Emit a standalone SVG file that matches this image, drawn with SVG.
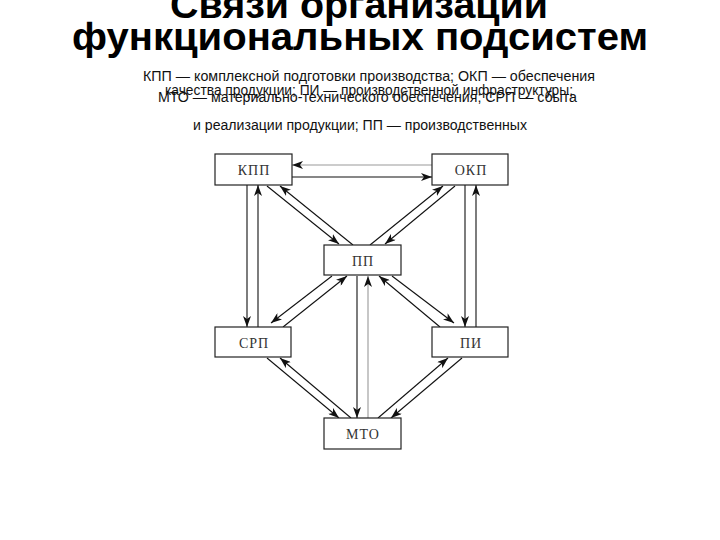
<svg xmlns="http://www.w3.org/2000/svg" width="720" height="540" viewBox="0 0 720 540">
<style>
.title{font-family:"Liberation Sans",Arial,sans-serif;font-weight:bold;font-size:38px;fill:#000;text-anchor:middle}
.sub{font-family:"Liberation Sans",Arial,sans-serif;font-size:14px;fill:#111}
.box{fill:#fff;stroke:#222;stroke-width:1.2}
.lbl{font-family:"Liberation Serif","Times New Roman",serif;font-size:14px;fill:#333;text-anchor:middle;letter-spacing:1px}
.c{stroke:#111;stroke-width:1.1;fill:none;marker-end:url(#ah)}
.g{stroke:#999}
</style>
<defs>
<marker id="ah" markerUnits="userSpaceOnUse" markerWidth="12" markerHeight="8" refX="11" refY="4" orient="auto">
<path d="M0,0 L11,4 L0,8 L3,4 Z" fill="#111"/>
</marker>
</defs>
<rect width="720" height="540" fill="#fff"/>
<g id="title">
<text class="title" x="359" y="18" textLength="378" lengthAdjust="spacingAndGlyphs">Связи организации</text>
<text class="title" x="360" y="50" textLength="576" lengthAdjust="spacingAndGlyphs">функциональных подсистем</text>
</g>
<g id="legend">
<text class="sub" x="143" y="81" textLength="452" lengthAdjust="spacingAndGlyphs">КПП — комплексной подготовки производства; ОКП — обеспечения</text>
<text class="sub" x="165" y="95" textLength="408" lengthAdjust="spacingAndGlyphs">качества продукции; ПИ — производственной инфраструктуры;</text>
<text class="sub" x="158" y="102" textLength="419" lengthAdjust="spacingAndGlyphs">МТО — материально-технического обеспечения; СРП — сбыта</text>
<text class="sub" x="193" y="130" textLength="334" lengthAdjust="spacingAndGlyphs">и реализации продукции; ПП — производственных</text>
</g>
<g id="connectors">
<line class="c g" x1="432" y1="165" x2="292" y2="165"/>
<line class="c" x1="292" y1="177" x2="432" y2="177"/>
<line class="c" x1="247" y1="185" x2="247" y2="327"/>
<line class="c" x1="258" y1="327" x2="258" y2="185"/>
<line class="c" x1="465" y1="185" x2="465" y2="327"/>
<line class="c" x1="476" y1="327" x2="476" y2="185"/>
<line class="c" x1="267" y1="186" x2="339" y2="244"/>
<line class="c" x1="353" y1="245" x2="280" y2="186"/>
<line class="c" x1="370" y1="245" x2="443" y2="186"/>
<line class="c" x1="455" y1="186" x2="385" y2="244"/>
<line class="c" x1="357" y1="276" x2="357" y2="418"/>
<line class="c g" x1="368" y1="418" x2="368" y2="276"/>
<line class="c" x1="332" y1="276" x2="271" y2="323"/>
<line class="c" x1="283" y1="327" x2="347" y2="276"/>
<line class="c" x1="440" y1="327" x2="379" y2="276"/>
<line class="c" x1="392" y1="276" x2="454" y2="323"/>
<line class="c" x1="267" y1="358" x2="339" y2="418"/>
<line class="c" x1="351" y1="418" x2="280" y2="358"/>
<line class="c" x1="378" y1="418" x2="448" y2="358"/>
<line class="c" x1="462" y1="358" x2="391" y2="418"/>
</g>
<g id="KPP"><rect class="box" x="215" y="154" width="77" height="31"/><text class="lbl" x="254" y="175">КПП</text></g>
<g id="OKP"><rect class="box" x="432" y="154" width="76" height="31"/><text class="lbl" x="471" y="175">ОКП</text></g>
<g id="PP"><rect class="box" x="324" y="245" width="77" height="30"/><text class="lbl" x="363" y="266">ПП</text></g>
<g id="SRP"><rect class="box" x="215" y="327" width="76" height="30"/><text class="lbl" x="254" y="348">СРП</text></g>
<g id="PI"><rect class="box" x="432" y="327" width="76" height="30"/><text class="lbl" x="471" y="348">ПИ</text></g>
<g id="MTO"><rect class="box" x="324" y="418" width="77" height="31"/><text class="lbl" x="363" y="439">МТО</text></g>
</svg>
